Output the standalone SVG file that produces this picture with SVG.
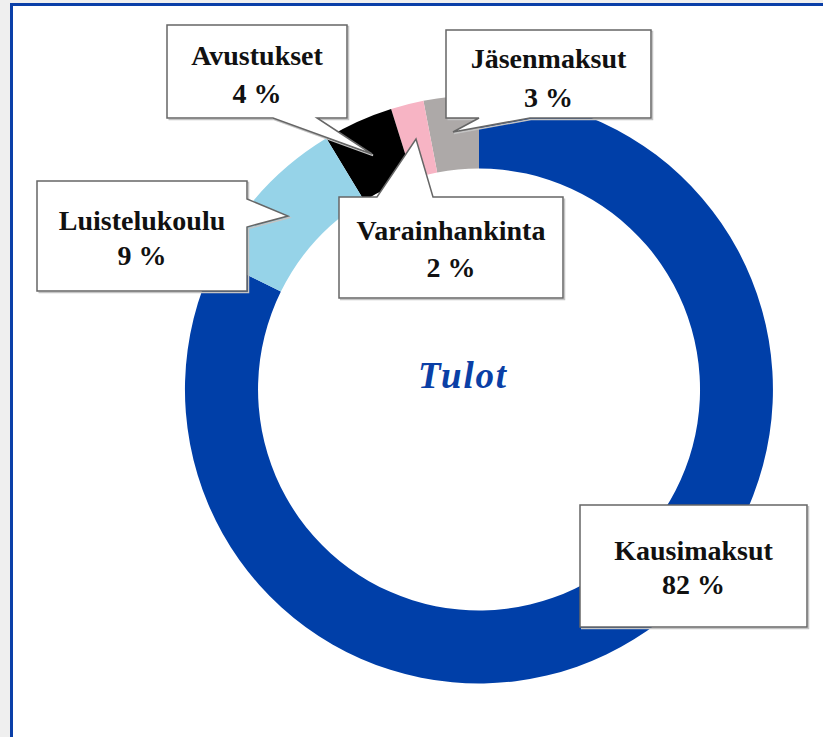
<svg xmlns="http://www.w3.org/2000/svg" width="823" height="737" viewBox="0 0 823 737">
<style>
.lbl{font-family:"Liberation Serif","Times New Roman",serif;font-weight:bold;font-size:28px;fill:#111;text-anchor:middle}
.co{fill:#fff;stroke:#666;stroke-width:1.5}
.sh{fill:none;stroke:#c4c4c4;stroke-width:1.5}
.title{font-family:"Liberation Serif","Times New Roman",serif;font-weight:bold;font-style:italic;font-size:37px;letter-spacing:1.8px;fill:#0A3FA6;text-anchor:middle}
</style>
<rect x="0" y="0" width="823" height="737" fill="#efefef"/>
<rect x="11.5" y="4.5" width="900" height="900" fill="#fff" stroke="#0A3FA8" stroke-width="3"/>
<g id="donut">
<path id="slice-kausimaksut" d="M479,95.5 A294,294 0 1 1 215.4,259.2 L280.9,291.6 A221,221 0 1 0 479,168.5 Z" fill="#003FA8"/>
<path id="slice-jasenmaksut" d="M479,95.5 A294,294 0 0 0 423.4,100.8 L437.2,172.5 A221,221 0 0 1 479,168.5 Z" fill="#ADA9A8"/>
<path id="slice-varainhankinta" d="M423.4,100.8 A294,294 0 0 0 391.1,109 L412.9,178.6 A221,221 0 0 1 437.2,172.5 Z" fill="#F7B4C4"/>
<path id="slice-avustukset" d="M391.1,109 A294,294 0 0 0 326.3,138.3 L364.2,200.7 A221,221 0 0 1 412.9,178.6 Z" fill="#000"/>
<path id="slice-luistelukoulu" d="M326.3,138.3 A294,294 0 0 0 215.4,259.2 L280.9,291.6 A221,221 0 0 1 364.2,200.7 Z" fill="#96D3E8"/>
</g>
<text id="title" class="title" x="463" y="388">Tulot</text>
<g id="callout-avustukset">
<path class="sh" d="M168,26.5 H348.5 V119.5 H318 L373,155.5 L274,119.5 H168.5"/>
<path class="co" d="M167,25 H347 V118 H317 L372,154 L273,118 H167 Z"/>
<text class="lbl" x="257" y="65">Avustukset</text>
<text class="lbl" x="257" y="103">4 %</text>
</g>
<g id="callout-jasenmaksut">
<path class="sh" d="M447,31.5 H652.5 V119.5 H531 L454,133.5 L480,119.5 H447.5"/>
<path class="co" d="M446,30 H651 V118 H530 L453,132 L479,118 H446 Z"/>
<text class="lbl" x="548.5" y="68">Jäsenmaksut</text>
<text class="lbl" x="548.5" y="107">3 %</text>
</g>
<g id="callout-luistelukoulu">
<path class="sh" d="M38,182.5 H248.5 V200.5 L289.5,217.5 L248.5,228.5 V292.5 H38.5"/>
<path class="co" d="M37,181 H247 V199 L288,216 L247,227 V291 H37 Z"/>
<text class="lbl" x="142" y="230">Luistelukoulu</text>
<text class="lbl" x="142" y="265">9 %</text>
</g>
<g id="callout-varainhankinta">
<path class="sh" d="M340,299.5 H564.5 V198.5"/>
<path class="co" d="M339,197 H377 L416,139 L433,197 H563 V298 H339 Z"/>
<text class="lbl" x="451" y="240">Varainhankinta</text>
<text class="lbl" x="451" y="277">2 %</text>
</g>
<g id="callout-kausimaksut">
<path class="sh" d="M581,628.5 H808.5 V506"/>
<rect class="co" x="580" y="505" width="227" height="122"/>
<text class="lbl" x="693.5" y="560">Kausimaksut</text>
<text class="lbl" x="693.5" y="594">82 %</text>
</g>
<g id="connectors"/>
</svg>
